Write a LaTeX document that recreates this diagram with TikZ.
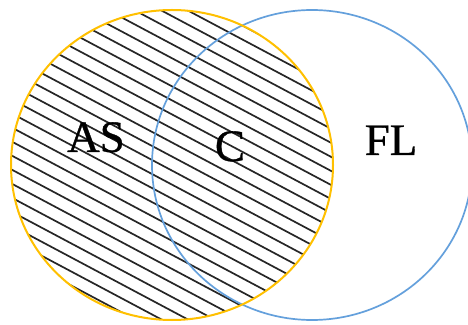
\documentclass[tikz,border=0pt]{standalone}
\usepackage{fontspec}
\setmainfont{Liberation Serif}
\newfontfamily\labelfont[FakeBold=0.8]{Liberation Serif}
\definecolor{setgold}{RGB}{255,192,0}
\definecolor{setblue}{RGB}{100,160,220}
\tikzset{
  setA/.style={draw=setgold, line width=2pt},
  setB/.style={draw=setblue, line width=1.7pt},
  hatchline/.style={draw=black!85, line width=1.7pt},
  setlabel/.style={font=\labelfont\fontsize{45}{50}\selectfont, anchor=base, inner sep=0pt}
}
\begin{document}
\begin{tikzpicture}[x=1pt,y=1pt]
\useasboundingbox (0,0) rectangle (468,324);
\fill[white] (0,0) rectangle (468,324);
% hatching inside left set
\begin{scope}
  \clip (172,159) ellipse [x radius=161, y radius=155];
  \begin{scope}[rotate=-28]
    \foreach \k in {-8,...,21} {
      \draw[hatchline] (-250,{141.8+12.4*\k}) -- (450,{141.8+12.4*\k});
    }
  \end{scope}
\end{scope}
\path[setB] (312,159) ellipse [x radius=160, y radius=155];
\path[setA] (172,159) ellipse [x radius=161, y radius=155];
\node[setlabel] (as) at (96,172) {AS};
\node[setlabel] (c) at (230,163) {C};
\node[setlabel] (fl) at (391,169) {FL};
\end{tikzpicture}
\end{document}
